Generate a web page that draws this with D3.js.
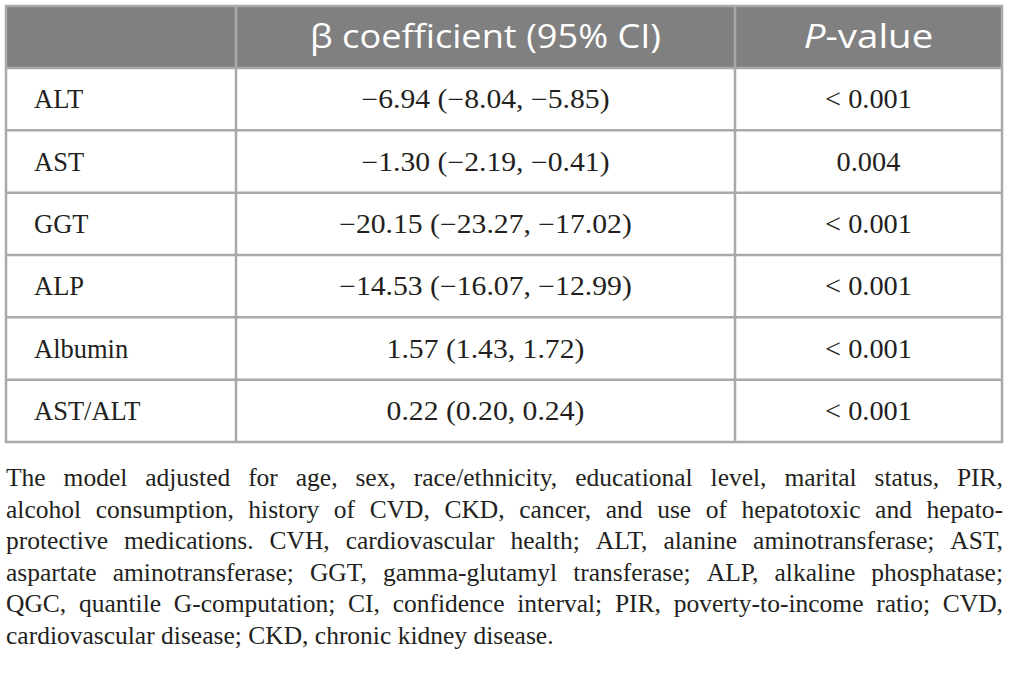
<!DOCTYPE html>
<html>
<head>
<meta charset="utf-8">
<script src="https://cdn.jsdelivr.net/npm/d3@7"></script>
<style>
  body { margin: 0; background: #fff; }
  svg { display: block; }
</style>
</head>
<body>
<div id="table"></div>
<script>
// table content
const headers = ['', 'β coefficient (95% CI)', 'P-value'];
const rowLabels = ['ALT', 'AST', 'GGT', 'ALP', 'Albumin', 'AST/ALT'];
const betas = [-6.94, -1.30, -20.15, -14.53, 1.57, 0.22];
const ciLow = [-8.04, -2.19, -23.27, -16.07, 1.43, 0.20];
const ciHigh = [-5.85, -0.41, -17.02, -12.99, 1.72, 0.24];
const pValues = ['< 0.001', '0.004', '< 0.001', '< 0.001', '< 0.001', '< 0.001'];
const noteLines = [
  'The model adjusted for age, sex, race/ethnicity, educational level, marital status, PIR,',
  'alcohol consumption, history of CVD, CKD, cancer, and use of hepatotoxic and hepato-',
  'protective medications. CVH, cardiovascular health; ALT, alanine aminotransferase; AST,',
  'aspartate aminotransferase; GGT, gamma-glutamyl transferase; ALP, alkaline phosphatase;',
  'QGC, quantile G-computation; CI, confidence interval; PIR, poverty-to-income ratio; CVD,',
  'cardiovascular disease; CKD, chronic kidney disease.'
];

const svgWidth = 1010, svgHeight = 682;
const tbl = {left: 6, right: 1002, top: 6, headBottom: 68, bottom: 442};
const colEdges = [tbl.left, 236, 735, tbl.right];
const lineColor = '#a9a9a9';
const textColor = '#231f20';
const serif = '"Liberation Serif", "DejaVu Serif", serif';
const sans = '"Open Sans", "Noto Sans", sans-serif';

const svg = d3.select('#table').append('svg')
  .attr('width', svgWidth).attr('height', svgHeight);

const fmt = d3.format('.2f');
const cellText = betas.map((b, i) => `${fmt(b)} (${fmt(ciLow[i])}, ${fmt(ciHigh[i])})`);

const y = d3.scaleBand()
  .domain(rowLabels)
  .range([tbl.headBottom, tbl.bottom]);

// stretch a text a little wider, the source font runs wider than Liberation
function widen(sel, k) {
  sel.each(function() {
    const w = this.getComputedTextLength();
    d3.select(this).attr('textLength', w * k).attr('lengthAdjust', 'spacingAndGlyphs');
  });
}

// header
svg.append('rect')
  .attr('x', tbl.left).attr('y', tbl.top)
  .attr('width', tbl.right - tbl.left).attr('height', tbl.headBottom - tbl.top)
  .attr('fill', '#808080');

const headBase = 48;
const colMid = i => (colEdges[i] + colEdges[i + 1]) / 2;

svg.append('text')
  .attr('x', colMid(1)).attr('y', headBase)
  .attr('text-anchor', 'middle')
  .attr('font-family', sans).attr('font-size', 32).attr('fill', '#fff')
  .text(headers[1])
  .call(widen, 1.13);

const pHead = svg.append('text')
  .attr('x', colMid(2)).attr('y', headBase)
  .attr('text-anchor', 'middle')
  .attr('font-family', sans).attr('font-size', 32).attr('fill', '#fff');
pHead.append('tspan').attr('font-style', 'italic').text(headers[2].slice(0, 1));
pHead.append('tspan').text(headers[2].slice(1));
widen(pHead, 1.2);

// body rows
const rows = svg.selectAll('g.row').data(rowLabels).enter().append('g')
  .attr('class', 'row')
  .attr('transform', d => `translate(0,${y(d) + y.bandwidth() / 2 + 9})`);

rows.append('text')
  .attr('x', 34)
  .attr('font-family', serif).attr('font-size', 26.5).attr('fill', textColor)
  .text(d => d);

rows.append('text')
  .attr('x', colMid(1)).attr('text-anchor', 'middle')
  .attr('font-family', serif).attr('font-size', 26.5).attr('fill', textColor)
  .text((d, i) => cellText[i])
  .call(widen, 1.12);

rows.append('text')
  .attr('x', colMid(2)).attr('text-anchor', 'middle')
  .attr('font-family', serif).attr('font-size', 26.5).attr('fill', textColor)
  .text((d, i) => pValues[i])
  .call(widen, 1.07);

// grid lines
const grid = svg.append('g').attr('stroke', lineColor).attr('stroke-width', 2.5);
grid.selectAll('line.h').data(rowLabels.slice(1)).enter().append('line')
  .attr('x1', tbl.left).attr('x2', tbl.right)
  .attr('y1', d => y(d)).attr('y2', d => y(d));
grid.append('line')
  .attr('x1', tbl.left).attr('x2', tbl.right)
  .attr('y1', tbl.headBottom).attr('y2', tbl.headBottom);
grid.selectAll('line.v').data(colEdges.slice(1, 3)).enter().append('line')
  .attr('x1', d => d).attr('x2', d => d)
  .attr('y1', tbl.top).attr('y2', tbl.bottom);
grid.append('rect')
  .attr('x', tbl.left).attr('y', tbl.top)
  .attr('width', tbl.right - tbl.left).attr('height', tbl.bottom - tbl.top)
  .attr('fill', 'none');

// footnote, justified line by line
const noteTop = 486, noteStep = 31.6;
const noteG = svg.append('g')
  .attr('font-family', serif).attr('font-size', 25.5).attr('fill', textColor);

noteLines.forEach((line, li) => {
  const words = line.split(' ');
  const yy = noteTop + li * noteStep;
  const texts = words.map(w => noteG.append('text').attr('y', yy).text(w));
  const widths = texts.map(t => t.node().getComputedTextLength());
  const total = d3.sum(widths);
  const last = li === noteLines.length - 1;
  const gap = last ? 6.4 : (tbl.right + 1 - tbl.left - total) / (words.length - 1);
  let x = tbl.left;
  texts.forEach((t, i) => { t.attr('x', x); x += widths[i] + gap; });
});
</script>
</body>
</html>
